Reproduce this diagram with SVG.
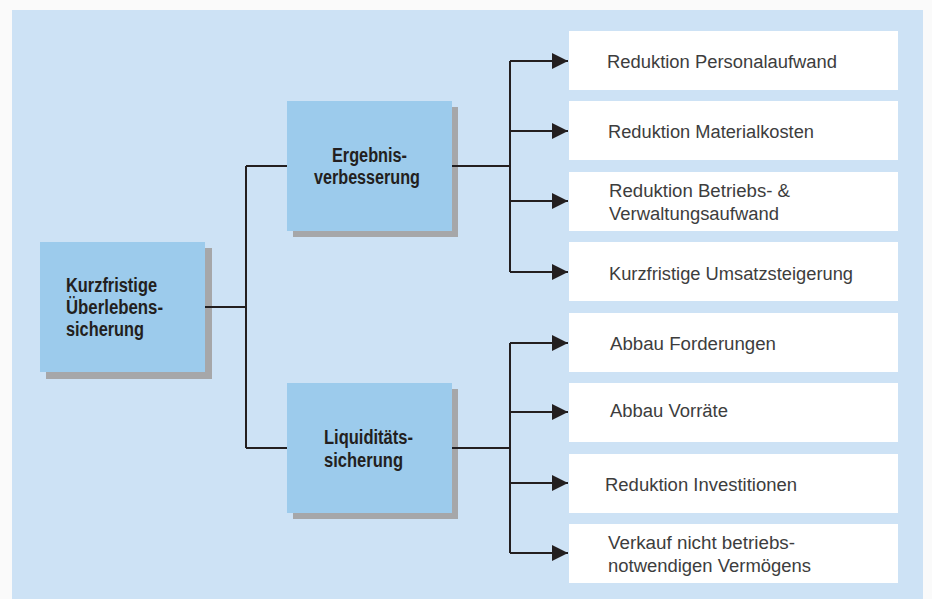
<svg xmlns="http://www.w3.org/2000/svg" width="932" height="599" viewBox="0 0 932 599">
<style>
.shadow{fill:#a6a7a9}
.main{fill:#9ccbec}
.leaf{fill:#ffffff}
.bold{font-family:"Liberation Sans",Arial,sans-serif;font-weight:bold;font-size:19.5px;fill:#231f20}
.reg{font-family:"Liberation Sans",Arial,sans-serif;font-size:18px;fill:#3d3d3d}
.line{fill:none;stroke:#231f20;stroke-width:2}
</style>
<defs>
<marker id="arr" markerUnits="userSpaceOnUse" markerWidth="16" markerHeight="16" viewBox="0 0 16 16" refX="16" refY="8" orient="auto">
<path d="M0,0 L16,8 L0,16 Z" fill="#231f20"/>
</marker>
</defs>
<rect x="0" y="0" width="932" height="599" fill="#fafafa"/>
<rect x="12" y="10" width="911" height="589" fill="#cde2f5"/>

<g id="root">
<rect class="shadow" x="46" y="248" width="166" height="131"/>
<rect class="main" x="40" y="242" width="165" height="130"/>
<text class="bold" x="66" y="292" textLength="91" lengthAdjust="spacingAndGlyphs">Kurzfristige</text>
<text class="bold" x="66" y="314" textLength="97" lengthAdjust="spacingAndGlyphs">Überlebens-</text>
<text class="bold" x="66" y="336" textLength="78" lengthAdjust="spacingAndGlyphs">sicherung</text>
</g>

<g id="ergebnis">
<rect class="shadow" x="293" y="107" width="165" height="130"/>
<rect class="main" x="287" y="101" width="165" height="130"/>
<text class="bold" x="332" y="162" textLength="75" lengthAdjust="spacingAndGlyphs">Ergebnis-</text>
<text class="bold" x="314" y="184" textLength="106" lengthAdjust="spacingAndGlyphs">verbesserung</text>
</g>

<g id="liquiditaet">
<rect class="shadow" x="293" y="389" width="165" height="130"/>
<rect class="main" x="287" y="383" width="165" height="130"/>
<text class="bold" x="324" y="444" textLength="89" lengthAdjust="spacingAndGlyphs">Liquiditäts-</text>
<text class="bold" x="324" y="467" textLength="79" lengthAdjust="spacingAndGlyphs">sicherung</text>
</g>

<g id="leaf1"><rect class="leaf" x="569" y="31" width="329" height="59"/>
<text class="reg" x="607" y="68" textLength="230" lengthAdjust="spacingAndGlyphs">Reduktion Personalaufwand</text></g>
<g id="leaf2"><rect class="leaf" x="569" y="101" width="329" height="59"/>
<text class="reg" x="608" y="138" textLength="206" lengthAdjust="spacingAndGlyphs">Reduktion Materialkosten</text></g>
<g id="leaf3"><rect class="leaf" x="569" y="172" width="329" height="59"/>
<text class="reg" x="609" y="197" textLength="181" lengthAdjust="spacingAndGlyphs">Reduktion Betriebs- &amp;</text>
<text class="reg" x="609" y="220" textLength="170" lengthAdjust="spacingAndGlyphs">Verwaltungsaufwand</text></g>
<g id="leaf4"><rect class="leaf" x="569" y="242" width="329" height="59"/>
<text class="reg" x="609" y="280" textLength="244" lengthAdjust="spacingAndGlyphs">Kurzfristige Umsatzsteigerung</text></g>
<g id="leaf5"><rect class="leaf" x="569" y="313" width="329" height="59"/>
<text class="reg" x="610" y="350" textLength="166" lengthAdjust="spacingAndGlyphs">Abbau Forderungen</text></g>
<g id="leaf6"><rect class="leaf" x="569" y="383" width="329" height="59"/>
<text class="reg" x="610" y="417" textLength="118" lengthAdjust="spacingAndGlyphs">Abbau Vorräte</text></g>
<g id="leaf7"><rect class="leaf" x="569" y="454" width="329" height="59"/>
<text class="reg" x="605" y="491" textLength="192" lengthAdjust="spacingAndGlyphs">Reduktion Investitionen</text></g>
<g id="leaf8"><rect class="leaf" x="569" y="524" width="329" height="59"/>
<text class="reg" x="608" y="549" textLength="187" lengthAdjust="spacingAndGlyphs">Verkauf nicht betriebs-</text>
<text class="reg" x="608" y="572" textLength="203" lengthAdjust="spacingAndGlyphs">notwendigen Vermögens</text></g>

<g id="connectors">
<path class="line" d="M205,307 H246 M246,166 V448 M246,166 H287 M246,448 H287"/>
<path class="line" d="M452,166 H510 M510,61 V272 M452,448 H510 M510,343 V553"/>
<path class="line" marker-end="url(#arr)" d="M510,61 H568"/>
<path class="line" marker-end="url(#arr)" d="M510,131 H568"/>
<path class="line" marker-end="url(#arr)" d="M510,201 H568"/>
<path class="line" marker-end="url(#arr)" d="M510,272 H568"/>
<path class="line" marker-end="url(#arr)" d="M510,343 H568"/>
<path class="line" marker-end="url(#arr)" d="M510,412 H568"/>
<path class="line" marker-end="url(#arr)" d="M510,483 H568"/>
<path class="line" marker-end="url(#arr)" d="M510,553 H568"/>
</g>
</svg>
